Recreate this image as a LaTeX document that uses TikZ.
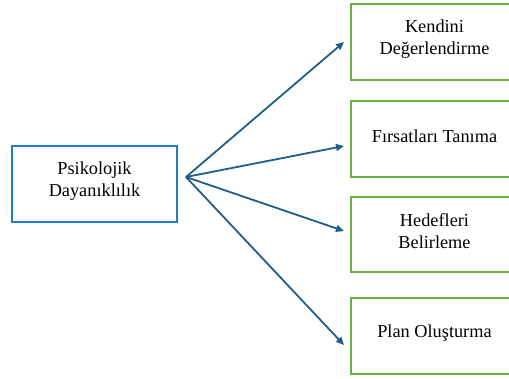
\documentclass[tikz,border=0pt]{standalone}
\usepackage{fontspec}
\setmainfont{Liberation Serif}
\newfontfamily\boxfont{Liberation Serif}
\usetikzlibrary{arrows.meta,calc}
\definecolor{boxblue}{RGB}{31,120,200}
\definecolor{boxgreen}{RGB}{102,178,69}
\definecolor{arrowblue}{RGB}{29,95,138}
\tikzset{
  srcbox/.style={draw=boxblue,line width=2pt,rectangle,inner sep=0pt,minimum width=165pt,minimum height=76pt},
  tgtbox/.style={draw=boxgreen,line width=2pt,rectangle,inner sep=0pt,minimum width=167pt,minimum height=76pt},
  txt/.style={align=center,inner sep=0pt,font=\boxfont\fontsize{18.3pt}{22pt}\selectfont},
  conn/.style={draw=arrowblue,line width=1.8pt,-{Triangle[length=8pt,width=7pt]}}
}
\begin{document}
\begin{tikzpicture}[x=1pt,y=-1pt]
\useasboundingbox (0,0) rectangle (509,378);
\clip (0,0) rectangle (509,378);
\node[srcbox] (src) at (94.5,184) {};
\node[txt] (srct) at (94.5,181) {Psikolojik\\Dayanıklılık};
\node[tgtbox] (b1) at (434.5,42) {};
\node[txt] (t1) at (434.5,39) {Kendini\\Değerlendirme};
\node[tgtbox] (b2) at (434.5,139) {};
\node[txt] (t2) at (434.5,136) {Fırsatları Tanıma};
\node[tgtbox,minimum height=75pt] (b3) at (434.5,234.5) {};
\node[txt] (t3) at (434.5,231.5) {Hedefleri\\Belirleme};
\node[tgtbox] (b4) at (434.5,336) {};
\node[txt] (t4) at (434.5,333) {Plan Oluşturma};
\coordinate (hub) at (186,177);
\coordinate (e1) at (344,42);
\coordinate (e2) at (344,146);
\coordinate (e3) at (344,231);
\coordinate (e4) at (344,345);
\draw[conn] (hub) -- (e1);
\draw[conn] (hub) -- (e2);
\draw[conn] (hub) -- (e3);
\draw[conn] (hub) -- (e4);
\end{tikzpicture}
\end{document}
